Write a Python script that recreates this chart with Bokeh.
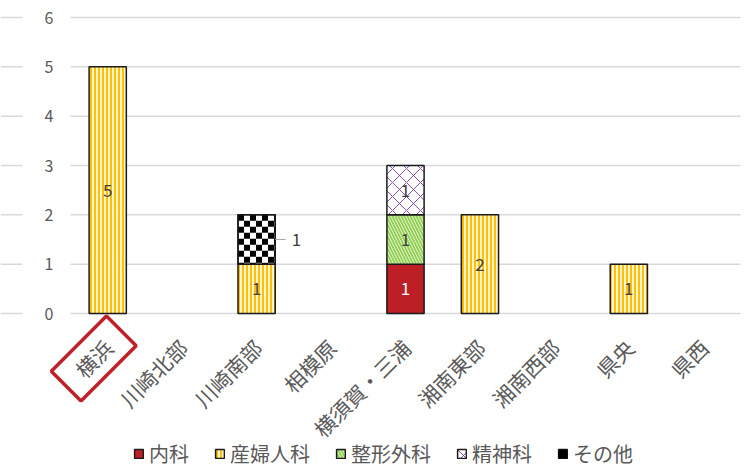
import math
from bokeh.plotting import figure
from bokeh.models import Range1d, Legend, LegendItem, ColumnDataSource
from bokeh.core.properties import value
from bokeh.embed import file_html
from bokeh.resources import INLINE

# ---------------- data ----------------
categories = ["横浜", "川崎北部", "川崎南部", "相模原", "横須賀・三浦",
              "湘南東部", "湘南西部", "県央", "県西"]
naika = [0, 0, 0, 0, 1, 0, 0, 0, 0]        # 内科
sanfujinka = [5, 0, 1, 0, 0, 2, 0, 1, 0]   # 産婦人科
seikei = [0, 0, 0, 0, 1, 0, 0, 0, 0]       # 整形外科
seishin = [0, 0, 0, 0, 1, 0, 0, 0, 0]      # 精神科
sonota = [0, 0, 1, 0, 0, 0, 0, 0, 0]       # その他
series_names = ["内科", "産婦人科", "整形外科", "精神科", "その他"]
y_ticks = [0, 1, 2, 3, 4, 5, 6]
highlighted = "横浜"

# ---------------- layout / styles ----------------
JP = "Noto Sans CJK JP"
GRAY = "#595959"
W, H = 747, 468
PLOT_LEFT, PLOT_RIGHT = 70, 740      # pixel columns of the category area
TOP_PX, BASE_PX = 17, 313            # pixel rows of y=6 and y=0
STUB_PX = 22                         # short gridline stubs left of the labels
Y_MAX = max(y_ticks)
N = len(categories)
PPU = (BASE_PX - TOP_PX) / Y_MAX     # pixels per y unit
PPX = (PLOT_RIGHT - PLOT_LEFT) / N   # pixels per category
BAR_W = 0.5
CELL_PX = 6                          # checker cell size

X0 = -0.5 - PLOT_LEFT / PPX
X1 = N - 0.5 + (W - PLOT_RIGHT) / PPX

styles = [
    dict(fill_color="#BE1E26"),
    dict(fill_color="#FFF4D4", hatch_pattern="vertical_line", hatch_color="#FFC000",
         hatch_scale=4, hatch_weight=2),
    dict(fill_color="#FFFFFF", hatch_pattern="left_diagonal_line", hatch_color="#92D050",
         hatch_scale=6, hatch_weight=2),
    dict(fill_color="#FFFFFF", hatch_pattern="diagonal_cross", hatch_color="#7030A0",
         hatch_scale=14, hatch_weight=1, hatch_alpha=0.85),
    dict(fill_color="#FFFFFF"),
]
checker_series = [False, False, False, False, True]
label_colors = ["#FFFFFF", "#404040", "#404040", "#404040", "#404040"]
outside_label = [False, False, False, False, True]

p = figure(width=W, height=H, x_range=Range1d(X0, X1),
           y_range=Range1d(-(H - BASE_PX) / PPU, Y_MAX + TOP_PX / PPU),
           output_backend="svg", toolbar_location=None,
           min_border_left=0, min_border_right=0,
           min_border_top=0, min_border_bottom=0)
p.outline_line_color = None
p.background_fill_color = "white"
p.border_fill_color = "white"
p.xaxis.visible = False
p.yaxis.visible = False
p.xgrid.visible = False
p.ygrid.visible = False

# gridlines (value axis), with the short stubs at the far left
grid_src = ColumnDataSource(dict(
    y=y_ticks,
    xa=[X0] * len(y_ticks), xb=[X0 + STUB_PX / PPX] * len(y_ticks),
    xc=[-0.5] * len(y_ticks), xd=[N - 0.5] * len(y_ticks),
    label=[str(t) for t in y_ticks]))
p.segment(x0="xa", y0="y", x1="xb", y1="y", source=grid_src,
          line_color="#D9D9D9", line_width=1.5)
p.segment(x0="xc", y0="y", x1="xd", y1="y", source=grid_src,
          line_color="#D9D9D9", line_width=1.5)
p.text(x="xc", y="y", text="label", source=grid_src, x_offset=-17,
       text_align="right", text_baseline="middle",
       text_font=value(JP), text_font_size="16px", text_color=GRAY)

# category labels under the baseline, rotated 45 degrees
cat_src = ColumnDataSource(dict(
    x=[i for i, c in enumerate(categories) if c != highlighted],
    y=[0] * (N - 1),
    text=[c for c in categories if c != highlighted]))
p.text(x="x", y="y", text="text", source=cat_src, angle=math.pi / 4,
       x_offset=1, y_offset=30, text_align="right", text_baseline="middle",
       text_font=value(JP), text_font_size="21px", text_color=GRAY)

# highlighted category, with red frame
hi_src = ColumnDataSource(dict(x=[categories.index(highlighted)], y=[0],
                               text=[highlighted]))
p.text(x="x", y="y", text="text", source=hi_src, angle=math.pi / 4,
       x_offset=-14, y_offset=45, text_align="center", text_baseline="middle",
       text_font=value(JP), text_font_size="21px", text_color=GRAY,
       border_line_color="#C0202A", border_line_width=3.5,
       padding=dict(left=18, right=18, top=6, bottom=6))


def checker_cells(xc, bottom, top):
    cw, ch = CELL_PX / PPX, CELL_PX / PPU
    left, right = xc - BAR_W / 2, xc + BAR_W / 2
    out = dict(l=[], r=[], b=[], t=[])
    row, ytop = 0, top
    while ytop > bottom + 1e-9:
        ybot = max(bottom, ytop - ch)
        col, xl = 0, left
        while xl < right - 1e-9:
            xr = min(right, xl + cw)
            if (row + col) % 2 == 0:
                out["l"].append(xl)
                out["r"].append(xr)
                out["b"].append(ybot)
                out["t"].append(ytop)
            xl, col = xr, col + 1
        ytop, row = ybot, row + 1
    return out


# bars
series = [naika, sanfujinka, seikei, seishin, sonota]
bottoms = [0] * N
legend_items = []
for name, vals, style, chk, lc, outside in zip(series_names, series, styles,
                                                checker_series, label_colors,
                                                outside_label):
    xs = [i for i, v in enumerate(vals) if v > 0]
    bot = [bottoms[i] for i in xs]
    top = [bottoms[i] + vals[i] for i in xs]
    for i in xs:
        bottoms[i] += vals[i]
    src = ColumnDataSource(dict(
        x=xs, bottom=bot, top=top,
        mid=[(b + t) / 2 for b, t in zip(bot, top)],
        label=[str(vals[i]) for i in xs],
        edge=[i + BAR_W / 2 for i in xs],
        lead=[i + BAR_W / 2 + 0.14 for i in xs],
    ))
    r = p.vbar(x="x", bottom="bottom", top="top", width=BAR_W, source=src,
               line_color="#1A1A1A", line_width=1.5, **style)
    rends = [r]
    if chk:
        cells = dict(l=[], r=[], b=[], t=[])
        for xc, b, t in zip(xs, bot, top):
            c = checker_cells(xc, b, t)
            for k in cells:
                cells[k] += c[k]
        rc = p.quad(left="l", right="r", bottom="b", top="t",
                    source=ColumnDataSource(cells),
                    fill_color="#000000", line_color=None)
        p.vbar(x="x", bottom="bottom", top="top", width=BAR_W, source=src,
               fill_color=None, line_color="#1A1A1A", line_width=1.5)
        rends.append(rc)
    legend_items.append(LegendItem(label=name, renderers=rends))
    if outside:
        p.segment(x0="edge", y0="mid", x1="lead", y1="mid", source=src,
                  line_color="#A6A6A6", line_width=1.2)
        p.text(x="lead", y="mid", text="label", source=src, x_offset=6,
               text_align="left", text_baseline="middle",
               text_font=value(JP), text_font_size="17px", text_color=lc)
    else:
        p.text(x="x", y="mid", text="label", source=src,
               text_align="center", text_baseline="middle",
               text_font=value(JP), text_font_size="17px", text_color=lc)

# legend
legend = Legend(items=legend_items, orientation="horizontal",
                location=(133, 0), glyph_width=11, glyph_height=11,
                label_text_font=JP, label_text_font_size="20px",
                label_text_color=GRAY, label_standoff=5, spacing=25,
                padding=0, margin=0, border_line_color=None,
                background_fill_alpha=0)
p.add_layout(legend)

open("out.html", "w").write(file_html(p, INLINE))
